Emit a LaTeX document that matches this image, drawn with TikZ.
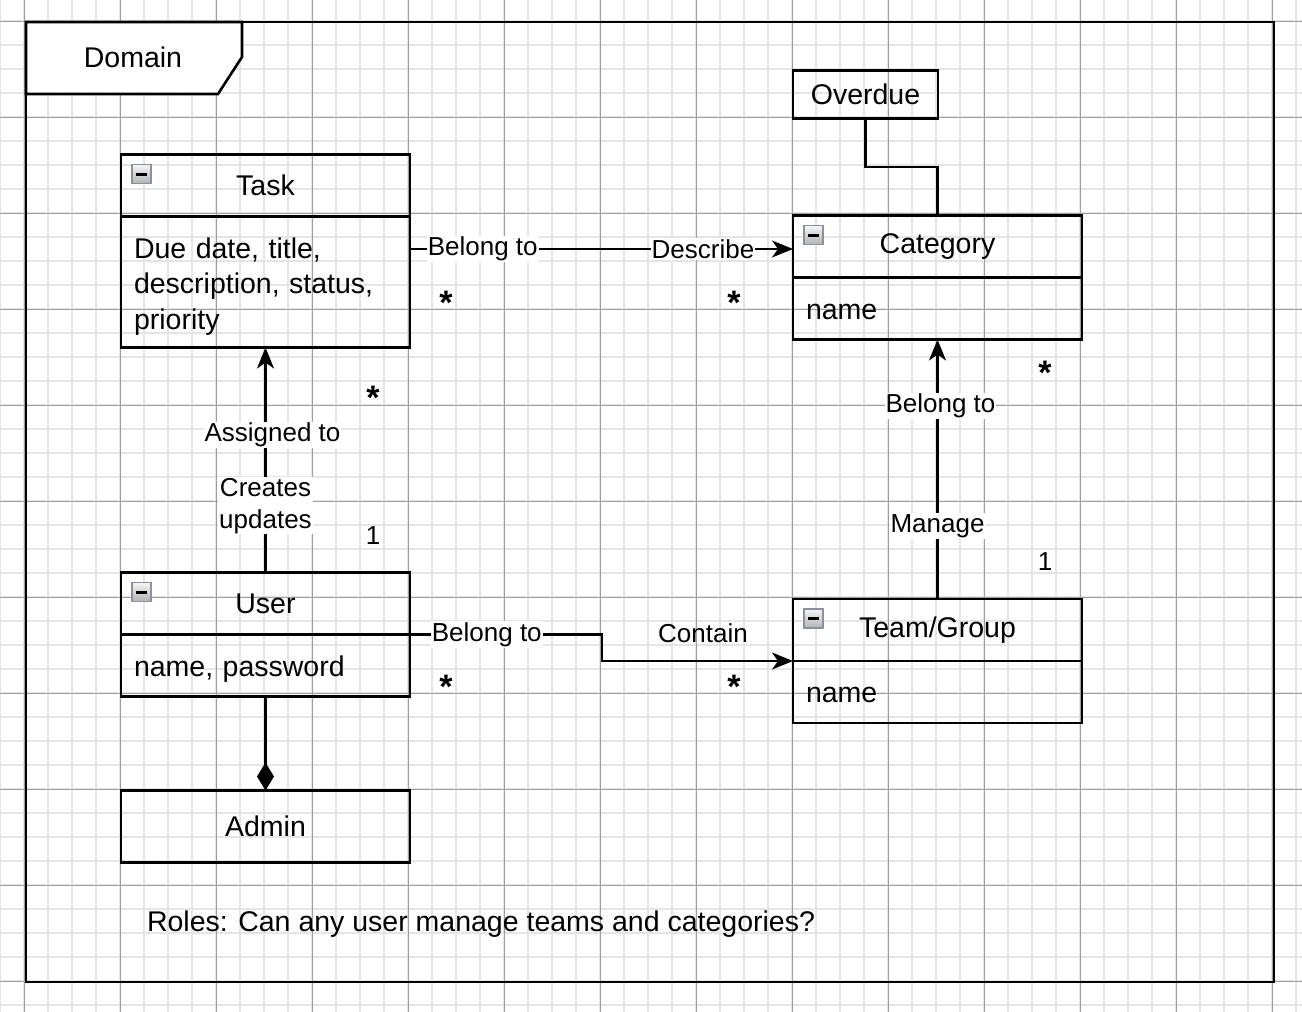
\documentclass[tikz,border=0pt]{standalone}
\usepackage{fontspec}
\setmainfont{Liberation Sans}
\usetikzlibrary{arrows.meta,positioning,calc}
\definecolor{iconedge}{RGB}{138,146,162}
\newcommand{\boxfont}{\fontsize{28.5pt}{35.5pt}\selectfont}
\newcommand{\lblfont}{\fontsize{26pt}{32pt}\selectfont}
\newcommand{\multfont}{\fontsize{34pt}{34pt}\selectfont\bfseries}

\begin{document}
\begin{tikzpicture}[x=1pt, y=-1pt,
    every node/.style={outer sep=0pt},
    minorgrid/.style={black!10, line width=1.6pt},
    majorgrid/.style={black!38, line width=1pt},
    umlhead/.style={draw, line width=2.4pt, minimum width=289pt, minimum height=62pt, font=\boxfont},
    umlbody/.style={draw, line width=2.4pt, minimum height=62pt, text width=263pt, inner xsep=13pt,
      align=left, font=\boxfont},
    oneline/.style={text height=21pt, text depth=0pt},
    minusbox/.style={draw=iconedge, line width=1.5pt, top color=black!4, bottom color=black!30,
      minimum size=19pt, inner sep=0pt, anchor=north west,
      path picture={\fill (path picture bounding box.center) ++(-5.5pt,-1.5pt) rectangle ++(11pt,3pt);}},
    lbl/.style={fill=white, inner sep=1pt, font=\lblfont, align=center},
    mult/.style={font=\multfont, inner sep=0pt, anchor=base},
    one/.style={font=\lblfont, inner sep=0pt, anchor=base},
    conn/.style={line width=2.2pt},
    arr/.style={conn, -{Stealth[length=21pt, width=17pt, inset=6pt]}}
  ]
  \useasboundingbox (0,0) rectangle (1302,1012);

  % grid
  \foreach \i in {0,...,54} \draw[minorgrid] (24*\i,0) -- (24*\i,1012);
  \foreach \j in {0,...,41} \draw[minorgrid] (0,21+24*\j) -- (1302,21+24*\j);
  \foreach \i in {0,...,13} \draw[majorgrid] (24+96*\i,0) -- (24+96*\i,1012);
  \foreach \j in {0,...,10} \draw[majorgrid] (0,21+96*\j) -- (1302,21+96*\j);

  % frame
  \draw[line width=2.6pt] (26,22) rectangle (1274,982);
  \filldraw[fill=white, line width=2.6pt] (26,22) -- (242,22) -- (242,57) -- (218,94) -- (26,94) -- cycle;
  \node[font=\boxfont] (domain) at (133,57) {Domain};

  % classes
  \node[umlhead] (taskh) at (265.5,185.5) {Task};
  \node[umlbody, minimum height=131pt, text height=29pt, below=0pt of taskh] (taskb) {Due date, title,\\description, status,\\priority};
  \node[umlhead] (cath) at (937.5,246.5) {Category};
  \node[umlbody, oneline, below=0pt of cath] (catb) {name};
  \node[umlhead] (userh) at (265.5,603.5) {User};
  \node[umlbody, oneline, below=0pt of userh] (userb) {name, password};
  \node[umlhead] (teamh) at (937.5,630) {Team/Group};
  \node[umlbody, oneline, below=0pt of teamh] (teamb) {name};
  \node[umlhead, minimum height=72pt, below=94pt of userb] (admin) {Admin};
  \node[umlhead, minimum width=145pt, minimum height=48pt, above=97pt of cath.north west, anchor=south west] (overdue) {Overdue};

  \foreach \n in {taskh,cath,userh,teamh}
    \node[minusbox] (\n-m) at ([shift={(11pt,-10pt)}]\n.north west) {};

  % connectors
  \coordinate (od) at ($(overdue.south)!.5!(cath.north)$);
  \draw[conn] (overdue.south) |- (od) -| (cath.north);
  \draw[arr] ([yshift=-2.5pt]taskb.east |- cath.west) -- node[lbl, pos=.19] {Belong to} node[lbl, pos=.765] {Describe} ([yshift=-2.5pt]cath.west);
  \draw[arr] (userh.north) -- node[lbl, pos=.297] {Creates\\updates} node[lbl, pos=.611, xshift=7pt] {Assigned to} (taskb.south);
  \draw[arr] (teamh.north) -- node[lbl, pos=.281] {Manage} node[lbl, pos=.745, xshift=3pt] {Belong to} (catb.south);
  \draw[arr] (userh.south east) -- node[lbl, pos=.4] {Belong to} ++(192pt,0) |- (teamh.south west);
  \draw[conn, -{Diamond[length=28pt, width=17pt]}] (userb.south) -- (admin.north);
  \node[lbl, fill=none] (contain) at (703,633) {Contain};

  % multiplicities
  \node[mult] (m1) at (446,314) {*};
  \node[mult] (m2) at (734,314) {*};
  \node[mult] (m3) at (373,409) {*};
  \node[one] (m4) at (373,544) {1};
  \node[mult] (m5) at (1045,384) {*};
  \node[one] (m6) at (1045,570) {1};
  \node[mult] (m7) at (446,698) {*};
  \node[mult] (m8) at (734,698) {*};

  \node[font=\boxfont, anchor=west, inner sep=0pt] (roles) at (147,924) {Roles: Can any user manage teams and categories?};
\end{tikzpicture}
\end{document}
